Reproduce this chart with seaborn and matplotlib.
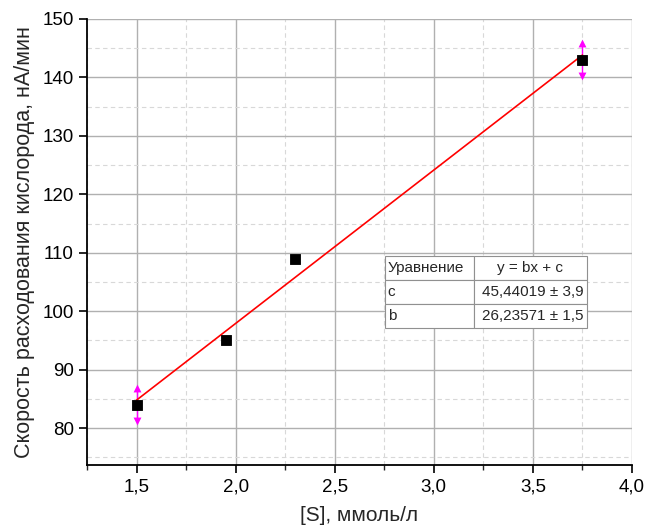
import numpy as np
import matplotlib
matplotlib.use("Agg")
import matplotlib.pyplot as plt
import seaborn as sns
from matplotlib.ticker import MultipleLocator

sns.set_style("white")
plt.rcParams['font.family'] = ['Liberation Sans', 'DejaVu Sans']

# data
conc = [1.5, 1.95, 2.3, 3.75]
rate = [84, 95, 109, 143]
err_x = [1.5, 3.75]
err_y = [84, 143]
err_size = [2.8, 2.8]
b, c = 26.23571, 45.44019
fit_x = np.array([1.5, 3.75])

table_rows = [["Уравнение", "y = bx + c"],
              ["c", "45,44019 ± 3,9"],
              ["b", "26,23571 ± 1,5"]]

fig = plt.figure(figsize=(6.59, 5.26), dpi=100)
ax = fig.add_axes([0.132, 0.116, 0.827, 0.848])

ax.set_xlim(1.25, 4.0)
ax.set_ylim(73.7, 150)
ax.xaxis.set_major_locator(MultipleLocator(0.5))
ax.xaxis.set_minor_locator(MultipleLocator(0.25))
ax.yaxis.set_major_locator(MultipleLocator(10))
ax.yaxis.set_minor_locator(MultipleLocator(5))
ax.grid(which="major", color="#b0b0b0", linewidth=1.0)
ax.grid(which="minor", color="#d8d8d8", linestyle=(0, (4, 3)), linewidth=0.8)
ax.set_axisbelow(True)

# error bars with arrow ends
ax.errorbar(err_x, err_y, yerr=err_size, fmt="none", ecolor="#ff00ff",
            elinewidth=1.0, capsize=0, zorder=2)
ax.scatter(err_x, np.array(err_y) + np.array(err_size), marker="^", s=32,
           color="#ff00ff", zorder=2, linewidths=0)
ax.scatter(err_x, np.array(err_y) - np.array(err_size), marker="v", s=32,
           color="#ff00ff", zorder=2, linewidths=0)

sns.lineplot(x=fit_x, y=b * fit_x + c, color="red", linewidth=1.2, ax=ax, zorder=3)
sns.scatterplot(x=conc, y=rate, marker="s", s=60, color="black",
                edgecolor="black", ax=ax, zorder=4)

for s in ["top", "right"]:
    ax.spines[s].set_visible(False)
for s in ["left", "bottom"]:
    ax.spines[s].set_color("black")
    ax.spines[s].set_linewidth(1.3)

ax.tick_params(which="major", direction="out", length=6, width=1.2,
               labelsize=13.5, colors="black", bottom=True, left=True)
ax.tick_params(which="minor", direction="out", length=3.5, width=1.0,
               bottom=True, left=False)
ax.xaxis.set_major_formatter(matplotlib.ticker.FuncFormatter(
    lambda v, p: f"{v:.1f}".replace(".", ",")))
ax.set_xlabel("[S], ммоль/л", fontsize=15, labelpad=8)
ax.set_ylabel("Скорость расходования кислорода, нА/мин", fontsize=15.5, labelpad=5)

tbl = ax.table(cellText=table_rows, colWidths=[0.44, 0.56],
               bbox=[0.547, 0.307, 0.37, 0.162], cellLoc="left")
tbl.set_zorder(10)
tbl.auto_set_font_size(False)
tbl.set_fontsize(11)
for (r, col), cell in tbl.get_celld().items():
    cell.set_edgecolor("#909090")
    cell.set_linewidth(0.8)
    cell.set_facecolor("white")
    if col == 1:
        cell.set_text_props(ha="right" if r > 0 else "center")
        cell._loc = "center" if r == 0 else "right"
    cell.PAD = 0.03

fig.savefig("out.png", dpi=100)
